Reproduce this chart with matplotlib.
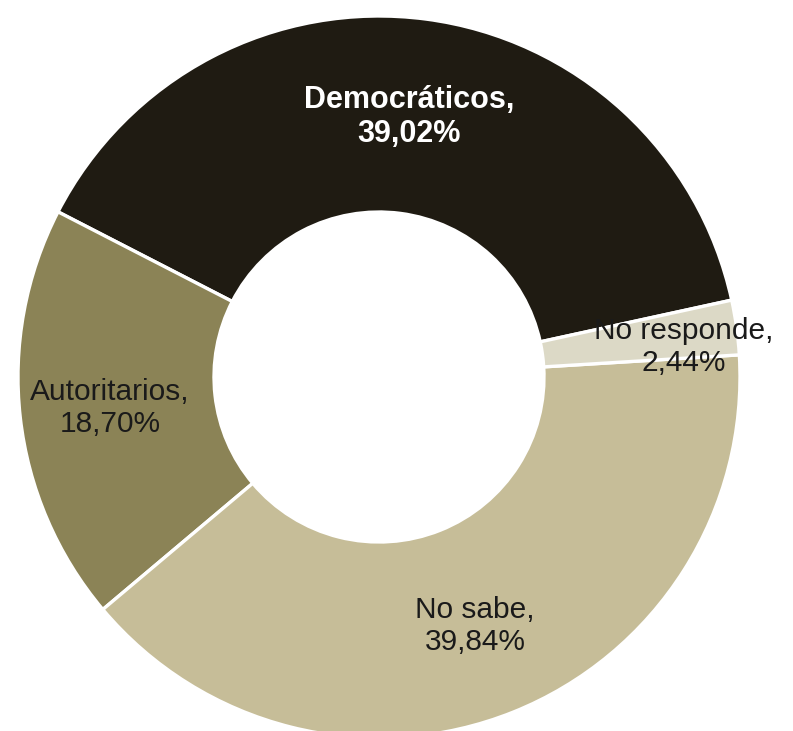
import matplotlib
matplotlib.use("Agg")
import matplotlib.pyplot as plt

# Data
categories = ["Democráticos", "Autoritarios", "No sabe", "No responde"]
shares = [39.02, 18.70, 39.84, 2.44]
colors = ["#1f1b12", "#8b8356", "#c6bd98", "#dcd9c6"]
text_colors = ["white", "#1a1a1a", "#1a1a1a", "#1a1a1a"]
text_weights = ["bold", "normal", "normal", "normal"]
text_sizes = [22, 21.5, 21.5, 21.5]

# Layout in pixel units (y from the top of the image)
W, H = 793, 731
cx, cy = 379, 377
r_out = 361
r_in = 165
label_xy = [(409, 117), (110, 408), (475, 626), (684, 347)]

plt.rcParams["font.family"] = ["Liberation Sans", "DejaVu Sans"]

fig = plt.figure(figsize=(W / 100, H / 100), dpi=100)
ax = fig.add_axes([0, 0, 1, 1])

ax.pie(
    shares,
    colors=colors,
    startangle=12.3,
    counterclock=True,
    radius=r_out,
    center=(cx, H - cy),
    wedgeprops=dict(width=r_out - r_in, edgecolor="white", linewidth=2.4),
    frame=True,
)
ax.set_xlim(0, W)
ax.set_ylim(0, H)
ax.set_aspect("equal")
ax.axis("off")

for cat, val, (x, y), tc, fw, fs in zip(categories, shares, label_xy,
                                        text_colors, text_weights, text_sizes):
    txt = f"{cat},\n{val:.2f}%".replace(".", ",")
    ax.text(x, H - y, txt, ha="center", va="center", fontsize=fs,
            color=tc, fontweight=fw, linespacing=1.2)

fig.savefig("out.png", dpi=100)
